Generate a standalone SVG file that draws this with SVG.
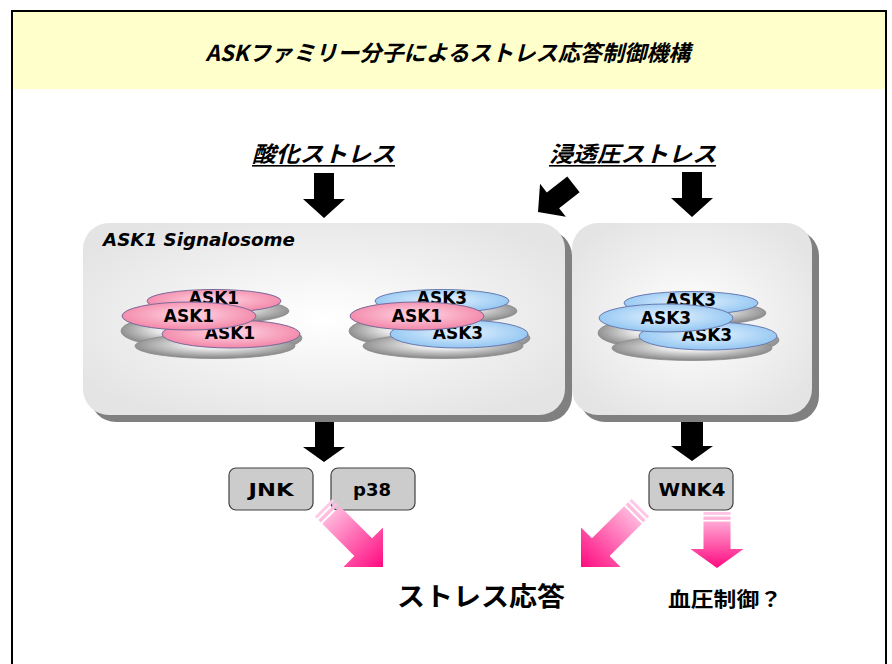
<svg xmlns="http://www.w3.org/2000/svg" xmlns:xlink="http://www.w3.org/1999/xlink" width="892" height="664" viewBox="0 0 892 664">
  <defs>
    <style>
      .jp { font-family: "Noto Sans CJK JP", "Noto Sans", sans-serif; font-weight: bold; }
      .lat { font-family: "DejaVu Sans", "Liberation Sans", sans-serif; font-weight: bold; }
      .mol { font-family: "DejaVu Sans", "Liberation Sans", sans-serif; font-weight: bold; font-size: 17px; text-anchor: middle; fill: #000; }
      .pink { fill: url(#gPink); stroke: #7a6a9a; stroke-width: 1; }
      .blue { fill: url(#gBlue); stroke: #6a7ab0; stroke-width: 1; }
      .disc { fill: url(#gDisc); stroke: #8a8a8a; stroke-width: 0.8; }
      .shadow { fill: #808080; }
      .panel { fill: url(#gPanel); }
      .kinase { fill: #cccccc; stroke: #404040; stroke-width: 1.2; }
      .klabel { font-family: "DejaVu Sans", "Liberation Sans", sans-serif; font-weight: bold; font-size: 18px; text-anchor: middle; fill: #000; }
      .blk { fill: #000; }
    </style>
    <radialGradient id="gPanel" cx="50%" cy="50%" r="60%">
      <stop offset="0" stop-color="#ffffff"/>
      <stop offset="1" stop-color="#e4e4e4"/>
    </radialGradient>
    <radialGradient id="gPink" cx="50%" cy="45%" r="55%">
      <stop offset="0" stop-color="#ffd8e6"/>
      <stop offset="1" stop-color="#f386a8"/>
    </radialGradient>
    <radialGradient id="gBlue" cx="50%" cy="45%" r="55%">
      <stop offset="0" stop-color="#e6f3ff"/>
      <stop offset="1" stop-color="#92c6f2"/>
    </radialGradient>
    <radialGradient id="gDisc" cx="50%" cy="45%" r="55%">
      <stop offset="0" stop-color="#ffffff"/>
      <stop offset="0.35" stop-color="#e6e6e6"/>
      <stop offset="1" stop-color="#858585"/>
    </radialGradient>
    <linearGradient id="gArrowDiag" gradientUnits="userSpaceOnUse" x1="0" y1="-84" x2="0" y2="0">
      <stop offset="0" stop-color="#ffcde8"/>
      <stop offset="1" stop-color="#ff0a80"/>
    </linearGradient>
    <linearGradient id="gArrowVert" gradientUnits="userSpaceOnUse" x1="0" y1="-56" x2="0" y2="0">
      <stop offset="0" stop-color="#ffc8e6"/>
      <stop offset="1" stop-color="#ff0a80"/>
    </linearGradient>
    <!-- black block arrow, tip at origin pointing down -->
    <path id="blockArrow" d="M-10,-45 L10,-45 L10,-19 L21,-19 L0,0 L-21,-19 L-10,-19 Z"/>
    <!-- long pink arrow with striped tail, tip at origin pointing down -->
    <g id="pinkDiag" fill="url(#gArrowDiag)">
      <rect x="-12.5" y="-84" width="25" height="3"/>
      <rect x="-12.5" y="-79" width="25" height="3.5"/>
      <path d="M-12.5,-73.5 L12.5,-73.5 L12.5,-28 L28,-28 L0,0 L-28,-28 L-12.5,-28 Z"/>
    </g>
    <!-- short pink arrow with striped tail, tip at origin pointing down -->
    <g id="pinkVert" fill="url(#gArrowVert)">
      <rect x="-13.5" y="-56" width="27" height="2.8"/>
      <rect x="-13.5" y="-51.5" width="27" height="3.3"/>
      <path d="M-13.5,-46.5 L13.5,-46.5 L13.5,-19 L26.5,-19 L0,0 L-26.5,-19 L-13.5,-19 Z"/>
    </g>
    <!-- grey base discs under each stacked molecule group -->
    <g id="discs">
      <ellipse class="disc" cx="222" cy="311" rx="67" ry="12"/>
      <ellipse class="disc" cx="240" cy="338" rx="62" ry="14"/>
      <ellipse class="disc" cx="176" cy="331" rx="55" ry="15"/>
      <ellipse class="disc" cx="215" cy="346" rx="80" ry="12.5"/>
    </g>
  </defs>

  <!-- page frame and header -->
  <rect x="12" y="11" width="874" height="700" fill="#ffffff" stroke="#000" stroke-width="2"/>
  <rect x="13" y="12" width="872" height="77" fill="#ffffcc"/>
  <text class="jp" x="448" y="61" font-size="22" font-style="italic" text-anchor="middle" textLength="485" lengthAdjust="spacingAndGlyphs">ASKファミリー分子によるストレス応答制御機構</text>

  <!-- stress inputs -->
  <g id="oxidative-stress">
    <text class="jp" x="252" y="162" font-size="22" font-style="italic" textLength="143" lengthAdjust="spacingAndGlyphs">酸化ストレス</text>
    <rect x="252" y="165" width="143" height="1.6" fill="#000"/>
  </g>
  <g id="osmotic-stress">
    <text class="jp" x="549" y="162" font-size="22" font-style="italic" textLength="167" lengthAdjust="spacingAndGlyphs">浸透圧ストレス</text>
    <rect x="549" y="165" width="167" height="1.6" fill="#000"/>
  </g>

  <!-- ASK1 signalosome panel -->
  <g id="ask1-signalosome">
    <rect class="shadow" x="90" y="230" width="482" height="192" rx="26"/>
    <rect class="panel" x="83" y="223" width="482" height="192" rx="26"/>
    <text class="lat" x="103" y="246" font-size="17" font-style="italic" textLength="192" lengthAdjust="spacingAndGlyphs">ASK1 Signalosome</text>

    <g id="ask1-homo">
      <use xlink:href="#discs"/>
      <ellipse class="pink" cx="214" cy="301" rx="67" ry="11.5"/>
      <text class="mol" x="214" y="304">ASK1</text>
      <ellipse class="pink" cx="231" cy="334" rx="69" ry="14"/>
      <text class="mol" x="230" y="339">ASK1</text>
      <ellipse class="pink" cx="189" cy="316" rx="67" ry="14"/>
      <text class="mol" x="189" y="322">ASK1</text>
    </g>

    <g id="ask1-ask3-hetero" transform="translate(228,0)">
      <use xlink:href="#discs"/>
      <ellipse class="blue" cx="214" cy="301" rx="67" ry="11.5"/>
      <text class="mol" x="214" y="304">ASK3</text>
      <ellipse class="blue" cx="231" cy="334" rx="69" ry="14"/>
      <text class="mol" x="230" y="339">ASK3</text>
      <ellipse class="pink" cx="189" cy="316" rx="67" ry="14"/>
      <text class="mol" x="189" y="322">ASK1</text>
    </g>
  </g>

  <!-- ASK3 panel -->
  <g id="ask3-panel">
    <rect class="shadow" x="579" y="230" width="240" height="192" rx="26"/>
    <rect class="panel" x="572" y="223" width="240" height="192" rx="26"/>
    <g id="ask3-homo" transform="translate(477,2)">
      <use xlink:href="#discs"/>
      <ellipse class="blue" cx="214" cy="301" rx="67" ry="11.5"/>
      <text class="mol" x="214" y="304">ASK3</text>
      <ellipse class="blue" cx="231" cy="334" rx="69" ry="14"/>
      <text class="mol" x="230" y="339">ASK3</text>
      <ellipse class="blue" cx="189" cy="316" rx="67" ry="14"/>
      <text class="mol" x="189" y="322">ASK3</text>
    </g>
  </g>

  <!-- downstream kinases -->
  <g id="jnk">
    <rect class="kinase" x="229" y="468" width="84" height="42" rx="7"/>
    <text class="klabel" x="271" y="496" textLength="45" lengthAdjust="spacingAndGlyphs">JNK</text>
  </g>
  <g id="p38">
    <rect class="kinase" x="331" y="468" width="84" height="42" rx="7"/>
    <text class="klabel" x="372" y="496" textLength="38" lengthAdjust="spacingAndGlyphs">p38</text>
  </g>
  <g id="wnk4">
    <rect class="kinase" x="649" y="468" width="84" height="42" rx="7"/>
    <text class="klabel" x="692" y="496" textLength="67" lengthAdjust="spacingAndGlyphs">WNK4</text>
  </g>

  <!-- outcomes -->
  <g id="stress-response">
    <text class="jp" x="397" y="606" font-size="26" textLength="168" lengthAdjust="spacingAndGlyphs">ストレス応答</text>
  </g>
  <g id="blood-pressure">
    <text class="jp" x="668" y="607" font-size="20" textLength="114" lengthAdjust="spacingAndGlyphs">血圧制御？</text>
  </g>

  <!-- connectors -->
  <g id="connectors">
    <use class="blk" xlink:href="#blockArrow" transform="translate(324,218)"/>
    <use class="blk" xlink:href="#blockArrow" transform="translate(692,217)"/>
    <use class="blk" xlink:href="#blockArrow" transform="translate(538,212) rotate(52)"/>
    <path class="blk" d="M315,422 L334,422 L334,447 L345,447 L324,462 L303,447 L315,447 Z"/>
    <path class="blk" d="M681,422 L703,422 L703,446 L713,446 L692,461 L671,446 L681,446 Z"/>
    <use xlink:href="#pinkDiag" transform="translate(383,567) rotate(-45)"/>
    <use xlink:href="#pinkDiag" transform="translate(581,567) rotate(45)"/>
    <use xlink:href="#pinkVert" transform="translate(717,568)"/>
  </g>
</svg>
